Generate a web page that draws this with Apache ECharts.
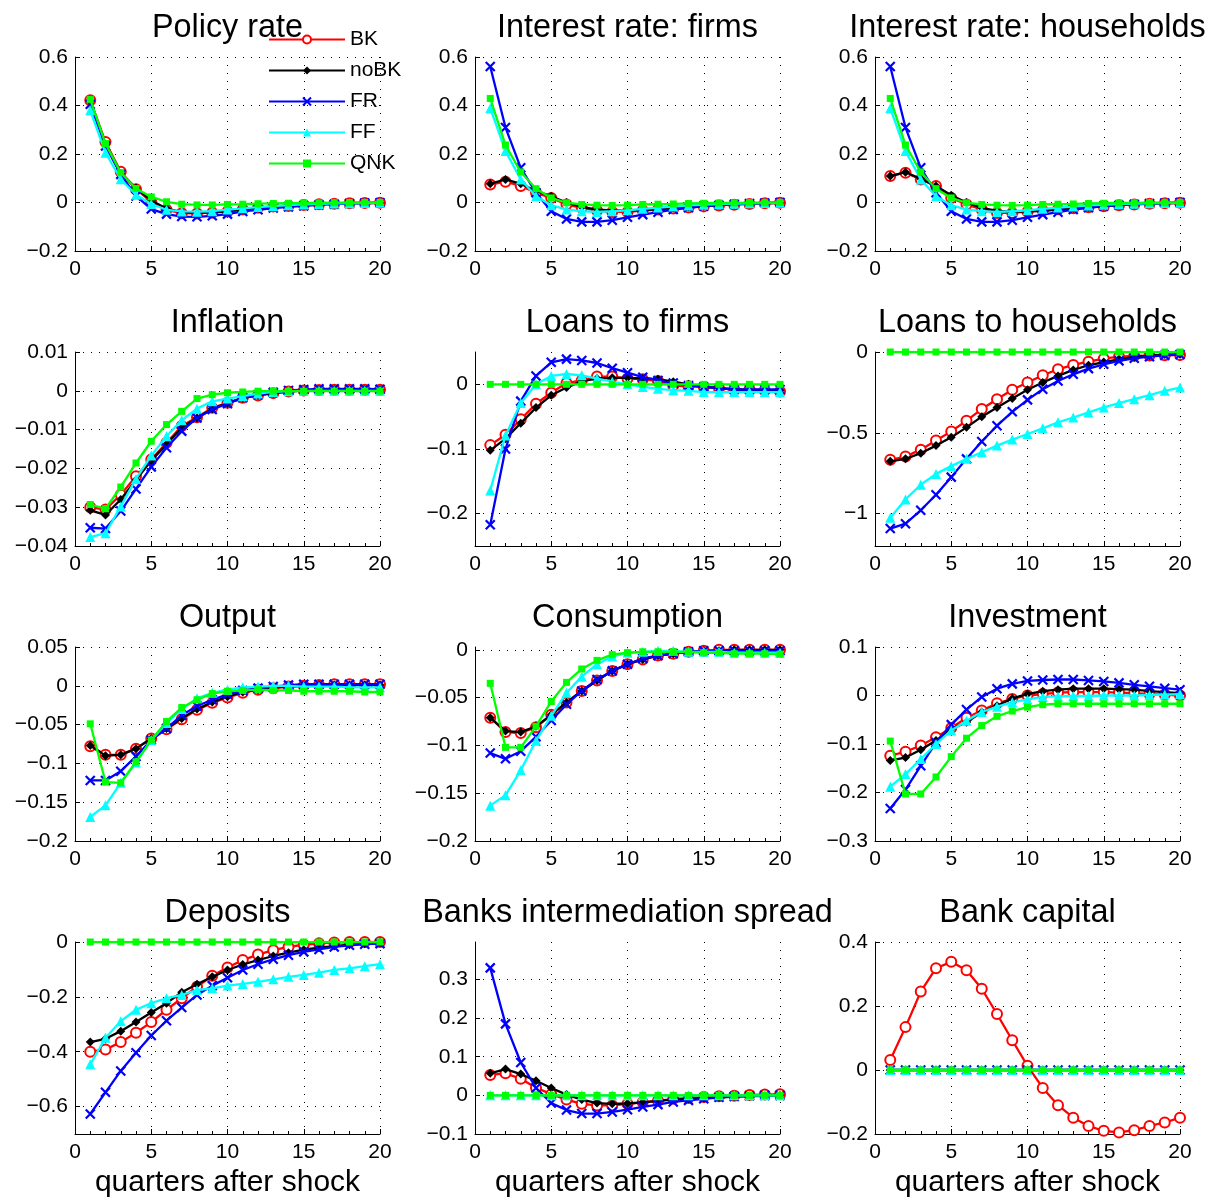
<!DOCTYPE html>
<html><head><meta charset="utf-8">
<script src="https://cdn.jsdelivr.net/npm/echarts@6/dist/echarts.min.js"></script>
<style>html,body{margin:0;padding:0;background:#fff}#chart{width:1210px;height:1199px}</style>
</head><body><div id="chart"></div>
<script>
const quarters = [1,2,3,4,5,6,7,8,9,10,11,12,13,14,15,16,17,18,19,20];
const seriesNames = ['BK','noBK','FR','FF','QNK'];
const panelTitles = ['Policy rate','Interest rate: firms','Interest rate: households','Inflation','Loans to firms','Loans to households','Output','Consumption','Investment','Deposits','Banks intermediation spread','Bank capital'];
const xTicks = [0,5,10,15,20];
const xLabelName = 'quarters after shock';

// Policy rate
const policy_BK   = [0.422,0.249,0.127,0.055,0.003,-0.030,-0.044,-0.045,-0.042,-0.037,-0.029,-0.022,-0.017,-0.014,-0.010,-0.007,-0.005,-0.003,-0.002,-0.001];
const policy_noBK = [0.418,0.240,0.120,0.060,0.008,-0.025,-0.040,-0.043,-0.041,-0.036,-0.029,-0.022,-0.017,-0.013,-0.010,-0.007,-0.005,-0.003,-0.002,-0.001];
const policy_FR   = [0.405,0.233,0.116,0.027,-0.027,-0.048,-0.058,-0.059,-0.055,-0.048,-0.037,-0.030,-0.023,-0.018,-0.014,-0.010,-0.007,-0.004,-0.002,-0.001];
const policy_FF   = [0.380,0.205,0.096,0.032,-0.006,-0.030,-0.037,-0.038,-0.036,-0.029,-0.024,-0.019,-0.015,-0.011,-0.008,-0.006,-0.004,-0.003,-0.002,-0.001];
const policy_QNK  = [0.425,0.243,0.123,0.058,0.023,0.003,-0.007,-0.010,-0.010,-0.008,-0.007,-0.005,-0.004,-0.003,-0.002,-0.002,-0.001,-0.001,0.000,0.000];
const policy_ticks = [-0.2,0,0.2,0.4,0.6];

// Interest rate: firms
const rfirm_BK   = [0.074,0.086,0.068,0.040,0.019,-0.008,-0.022,-0.033,-0.039,-0.039,-0.033,-0.029,-0.025,-0.021,-0.016,-0.012,-0.009,-0.006,-0.003,-0.001];
const rfirm_noBK = [0.077,0.095,0.077,0.047,0.026,0.000,-0.018,-0.029,-0.033,-0.033,-0.031,-0.027,-0.023,-0.019,-0.015,-0.011,-0.008,-0.005,-0.003,-0.001];
const rfirm_FR   = [0.561,0.309,0.143,0.040,-0.036,-0.068,-0.080,-0.080,-0.073,-0.061,-0.050,-0.040,-0.029,-0.022,-0.015,-0.011,-0.007,-0.004,-0.002,0.000];
const rfirm_FF   = [0.389,0.212,0.095,0.026,-0.011,-0.029,-0.036,-0.039,-0.036,-0.032,-0.026,-0.021,-0.017,-0.012,-0.009,-0.007,-0.005,-0.003,-0.002,-0.001];
const rfirm_QNK  = [0.429,0.237,0.126,0.057,0.019,-0.001,-0.008,-0.011,-0.012,-0.011,-0.008,-0.007,-0.006,-0.004,-0.003,-0.002,-0.002,-0.001,-0.001,0.000];
const rfirm_ticks = [-0.2,0,0.2,0.4,0.6];

// Interest rate: households
const rhh_BK   = [0.109,0.123,0.095,0.068,0.019,-0.008,-0.029,-0.043,-0.043,-0.038,-0.033,-0.028,-0.024,-0.020,-0.015,-0.011,-0.008,-0.005,-0.003,-0.001];
const rhh_noBK = [0.109,0.125,0.098,0.068,0.030,0.000,-0.022,-0.035,-0.038,-0.037,-0.034,-0.029,-0.024,-0.020,-0.015,-0.011,-0.008,-0.005,-0.003,-0.001];
const rhh_FR   = [0.561,0.309,0.143,0.040,-0.036,-0.068,-0.080,-0.080,-0.073,-0.061,-0.050,-0.040,-0.029,-0.022,-0.015,-0.011,-0.007,-0.004,-0.002,0.000];
const rhh_FF   = [0.389,0.212,0.095,0.026,-0.011,-0.029,-0.036,-0.039,-0.036,-0.032,-0.026,-0.021,-0.017,-0.012,-0.009,-0.007,-0.005,-0.003,-0.002,-0.001];
const rhh_QNK  = [0.429,0.237,0.126,0.057,0.019,-0.001,-0.008,-0.011,-0.012,-0.011,-0.008,-0.007,-0.006,-0.004,-0.003,-0.002,-0.002,-0.001,-0.001,0.000];
const rhh_ticks = [-0.2,0,0.2,0.4,0.6];

// Inflation
const infl_BK   = [-0.0300,-0.0306,-0.0268,-0.0220,-0.0177,-0.0134,-0.0091,-0.0068,-0.0044,-0.0031,-0.0018,-0.0012,-0.0006,-0.0002,0.0001,0.0002,0.0003,0.0003,0.0003,0.0003];
const infl_noBK = [-0.0308,-0.0320,-0.0280,-0.0230,-0.0180,-0.0138,-0.0095,-0.0070,-0.0046,-0.0032,-0.0019,-0.0012,-0.0006,-0.0002,0.0001,0.0002,0.0003,0.0003,0.0003,0.0003];
const infl_FR   = [-0.0353,-0.0355,-0.0310,-0.0253,-0.0196,-0.0147,-0.0104,-0.0070,-0.0048,-0.0033,-0.0018,-0.0010,-0.0004,0.0001,0.0003,0.0005,0.0005,0.0005,0.0005,0.0004];
const infl_FF   = [-0.0377,-0.0367,-0.0298,-0.0227,-0.0167,-0.0117,-0.0076,-0.0046,-0.0027,-0.0020,-0.0014,-0.0007,-0.0003,-0.0001,0.0000,0.0000,0.0000,0.0000,0.0000,0.0000];
const infl_QNK  = [-0.0293,-0.0304,-0.0248,-0.0186,-0.0130,-0.0087,-0.0053,-0.0020,-0.0010,-0.0005,-0.0003,-0.0001,-0.0001,-0.0001,-0.0001,-0.0001,-0.0001,-0.0001,-0.0001,-0.0001];
const infl_ticks = [-0.04,-0.03,-0.02,-0.01,0,0.01];

// Loans to firms
const lfirm_BK   = [-0.094,-0.078,-0.054,-0.030,-0.013,0.002,0.006,0.012,0.012,0.009,0.008,0.005,-0.002,-0.003,-0.004,-0.006,-0.008,-0.008,-0.009,-0.011];
const lfirm_noBK = [-0.102,-0.084,-0.060,-0.036,-0.017,-0.005,0.005,0.009,0.010,0.010,0.009,0.008,0.004,0.000,-0.004,-0.006,-0.008,-0.009,-0.009,-0.009];
const lfirm_FR   = [-0.217,-0.100,-0.026,0.013,0.034,0.039,0.037,0.033,0.025,0.018,0.011,0.006,0.002,-0.002,-0.004,-0.006,-0.008,-0.008,-0.008,-0.008];
const lfirm_FF   = [-0.164,-0.079,-0.029,0.000,0.013,0.016,0.014,0.009,0.004,0.000,-0.004,-0.007,-0.009,-0.010,-0.012,-0.012,-0.012,-0.012,-0.012,-0.012];
const lfirm_QNK  = [0,0,0,0,0,0,0,0,0,0,0,0,0,0,0,0,0,0,0,0];
const lfirm_ticks = [-0.2,-0.1,0];

// Loans to households
const lhh_BK   = [-0.667,-0.647,-0.604,-0.548,-0.491,-0.425,-0.353,-0.292,-0.234,-0.189,-0.144,-0.107,-0.080,-0.060,-0.041,-0.029,-0.024,-0.022,-0.020,-0.018];
const lhh_noBK = [-0.676,-0.661,-0.626,-0.579,-0.528,-0.466,-0.400,-0.343,-0.287,-0.234,-0.189,-0.148,-0.111,-0.082,-0.062,-0.045,-0.031,-0.023,-0.016,-0.014];
const lhh_FR   = [-1.092,-1.062,-0.979,-0.883,-0.774,-0.661,-0.554,-0.456,-0.370,-0.296,-0.230,-0.179,-0.138,-0.103,-0.076,-0.055,-0.039,-0.029,-0.021,-0.016];
const lhh_FF   = [-1.025,-0.912,-0.821,-0.754,-0.706,-0.661,-0.620,-0.579,-0.542,-0.507,-0.472,-0.435,-0.405,-0.374,-0.343,-0.316,-0.292,-0.267,-0.240,-0.220];
const lhh_QNK  = [0,0,0,0,0,0,0,0,0,0,0,0,0,0,0,0,0,0,0,0];
const lhh_ticks = [-1,-0.5,0];

// Output
const out_BK   = [-0.078,-0.089,-0.089,-0.081,-0.068,-0.056,-0.043,-0.031,-0.022,-0.015,-0.009,-0.005,-0.003,-0.001,0.000,0.001,0.002,0.002,0.002,0.002];
const out_noBK = [-0.077,-0.090,-0.089,-0.081,-0.068,-0.055,-0.042,-0.030,-0.021,-0.014,-0.008,-0.005,-0.002,-0.001,0.000,0.001,0.001,0.001,0.001,0.001];
const out_FR   = [-0.122,-0.122,-0.110,-0.091,-0.070,-0.055,-0.038,-0.026,-0.018,-0.011,-0.006,-0.003,-0.001,0.001,0.002,0.002,0.002,0.002,0.002,0.002];
const out_FF   = [-0.169,-0.154,-0.125,-0.099,-0.070,-0.048,-0.030,-0.016,-0.009,-0.005,-0.002,-0.001,0.000,0.000,-0.001,-0.001,-0.001,-0.002,-0.002,-0.002];
const out_QNK  = [-0.049,-0.124,-0.125,-0.098,-0.070,-0.046,-0.028,-0.018,-0.010,-0.007,-0.006,-0.005,-0.006,-0.006,-0.007,-0.007,-0.007,-0.007,-0.008,-0.008];
const out_ticks = [-0.2,-0.15,-0.1,-0.05,0,0.05];

// Consumption
const cons_BK   = [-0.071,-0.086,-0.087,-0.081,-0.068,-0.055,-0.043,-0.032,-0.022,-0.015,-0.010,-0.006,-0.004,-0.002,-0.001,0.000,0.000,0.000,0.000,0.000];
const cons_noBK = [-0.071,-0.085,-0.086,-0.080,-0.068,-0.055,-0.043,-0.032,-0.022,-0.015,-0.010,-0.006,-0.004,-0.002,-0.001,-0.001,0.000,0.000,0.000,0.000];
const cons_FR   = [-0.108,-0.114,-0.106,-0.091,-0.074,-0.057,-0.043,-0.031,-0.022,-0.015,-0.009,-0.006,-0.004,-0.002,-0.001,-0.001,-0.001,-0.001,-0.001,-0.001];
const cons_FF   = [-0.163,-0.152,-0.126,-0.095,-0.069,-0.045,-0.028,-0.015,-0.007,-0.003,-0.002,-0.001,-0.001,-0.002,-0.002,-0.002,-0.003,-0.003,-0.003,-0.003];
const cons_QNK  = [-0.035,-0.102,-0.102,-0.080,-0.054,-0.034,-0.020,-0.011,-0.005,-0.003,-0.002,-0.002,-0.002,-0.002,-0.003,-0.003,-0.004,-0.004,-0.004,-0.0045];
const cons_ticks = [-0.2,-0.15,-0.1,-0.05,0];

// Investment
const inv_BK   = [-0.124,-0.116,-0.103,-0.086,-0.067,-0.046,-0.031,-0.016,-0.007,0.000,0.003,0.006,0.007,0.007,0.007,0.006,0.005,0.003,0.002,0.000];
const inv_noBK = [-0.134,-0.128,-0.112,-0.093,-0.069,-0.055,-0.034,-0.021,-0.006,0.003,0.009,0.012,0.014,0.014,0.014,0.013,0.012,0.009,0.007,0.005];
const inv_FR   = [-0.233,-0.194,-0.145,-0.097,-0.060,-0.029,-0.003,0.014,0.024,0.030,0.032,0.033,0.033,0.031,0.029,0.026,0.022,0.019,0.015,0.012];
const inv_FF   = [-0.188,-0.162,-0.131,-0.100,-0.072,-0.052,-0.034,-0.023,-0.014,-0.008,-0.003,-0.002,-0.001,-0.001,0.000,0.000,0.000,0.001,0.002,0.003];
const inv_QNK  = [-0.094,-0.203,-0.203,-0.168,-0.126,-0.088,-0.062,-0.043,-0.032,-0.024,-0.019,-0.017,-0.017,-0.017,-0.017,-0.017,-0.017,-0.017,-0.017,-0.017];
const inv_ticks = [-0.3,-0.2,-0.1,0,0.1];

// Deposits
const dep_BK   = [-0.400,-0.392,-0.365,-0.331,-0.292,-0.247,-0.205,-0.163,-0.123,-0.093,-0.066,-0.046,-0.030,-0.018,-0.010,-0.005,-0.002,0.000,0.000,0.000];
const dep_noBK = [-0.365,-0.353,-0.325,-0.292,-0.257,-0.223,-0.183,-0.154,-0.127,-0.102,-0.082,-0.066,-0.051,-0.039,-0.028,-0.021,-0.015,-0.010,-0.006,-0.002];
const dep_FR   = [-0.627,-0.548,-0.470,-0.404,-0.341,-0.287,-0.239,-0.193,-0.159,-0.130,-0.102,-0.081,-0.063,-0.048,-0.036,-0.027,-0.018,-0.012,-0.008,-0.006];
const dep_FF   = [-0.446,-0.349,-0.289,-0.247,-0.223,-0.205,-0.193,-0.175,-0.169,-0.159,-0.153,-0.145,-0.136,-0.127,-0.120,-0.112,-0.102,-0.096,-0.088,-0.081];
const dep_QNK  = [0,0,0,0,0,0,0,0,0,0,0,0,0,0,0,0,0,0,0,0];
const dep_ticks = [-0.6,-0.4,-0.2,0];

// Banks intermediation spread
const spr_BK   = [0.053,0.057,0.043,0.020,0.003,-0.011,-0.022,-0.026,-0.026,-0.022,-0.018,-0.014,-0.009,-0.007,-0.004,-0.002,-0.001,0.001,0.002,0.003];
const spr_noBK = [0.057,0.068,0.055,0.038,0.019,0.002,-0.011,-0.020,-0.022,-0.021,-0.018,-0.014,-0.011,-0.009,-0.007,-0.005,-0.003,-0.002,-0.001,0.000];
const spr_FR   = [0.330,0.185,0.085,0.019,-0.020,-0.038,-0.047,-0.047,-0.043,-0.037,-0.030,-0.024,-0.017,-0.013,-0.009,-0.005,-0.003,-0.001,0.000,0.000];
const spr_FF   = [0,0,0,0,0,0,0,0,0,0,0,0,0,0,0,0,0,0,0,0];
const spr_QNK  = [0,0,0,0,0,0,0,0,0,0,0,0,0,0,0,0,0,0,0,0];
const spr_ticks = [-0.1,0,0.1,0.2,0.3];

// Bank capital
const cap_BK   = [0.031,0.134,0.245,0.318,0.338,0.312,0.254,0.175,0.093,0.013,-0.056,-0.110,-0.149,-0.175,-0.190,-0.195,-0.188,-0.175,-0.164,-0.149];
const cap_noBK = [0,0,0,0,0,0,0,0,0,0,0,0,0,0,0,0,0,0,0,0];
const cap_FR   = [0,0,0,0,0,0,0,0,0,0,0,0,0,0,0,0,0,0,0,0];
const cap_FF   = [0,0,0,0,0,0,0,0,0,0,0,0,0,0,0,0,0,0,0,0];
const cap_QNK  = [0,0,0,0,0,0,0,0,0,0,0,0,0,0,0,0,0,0,0,0];
const cap_ticks = [-0.2,0,0.2,0.4];

const panelData = [
  [policy_BK, policy_noBK, policy_FR, policy_FF, policy_QNK],
  [rfirm_BK, rfirm_noBK, rfirm_FR, rfirm_FF, rfirm_QNK],
  [rhh_BK, rhh_noBK, rhh_FR, rhh_FF, rhh_QNK],
  [infl_BK, infl_noBK, infl_FR, infl_FF, infl_QNK],
  [lfirm_BK, lfirm_noBK, lfirm_FR, lfirm_FF, lfirm_QNK],
  [lhh_BK, lhh_noBK, lhh_FR, lhh_FF, lhh_QNK],
  [out_BK, out_noBK, out_FR, out_FF, out_QNK],
  [cons_BK, cons_noBK, cons_FR, cons_FF, cons_QNK],
  [inv_BK, inv_noBK, inv_FR, inv_FF, inv_QNK],
  [dep_BK, dep_noBK, dep_FR, dep_FF, dep_QNK],
  [spr_BK, spr_noBK, spr_FR, spr_FF, spr_QNK],
  [cap_BK, cap_noBK, cap_FR, cap_FF, cap_QNK]
];
const panelTicks = [policy_ticks, rfirm_ticks, rhh_ticks, infl_ticks, lfirm_ticks, lhh_ticks, out_ticks, cons_ticks, inv_ticks, dep_ticks, spr_ticks, cap_ticks];
const panelYMin = [-0.2,-0.2,-0.2,-0.04,-0.25,-1.2,-0.2,-0.2,-0.3,-0.7,-0.1,-0.2];
const panelYMax = [0.6,0.6,0.6,0.01,0.05,0,0.05,0.003,0.1,0,0.397,0.4];

const FONT = '"Liberation Sans", Arial, Helvetica, sans-serif';
const seriesStyle = [
  {color:'#ff0000', symbol:'emptyCircle', size:10},
  {color:'#000000', symbol:'diamond', size:9},
  {color:'#0000ff', symbol:'path://M0 0L10 10M10 0L0 10', size:9},
  {color:'#00ffff', symbol:'triangle', size:10},
  {color:'#00ff00', symbol:'rect', size:7}
];

const grids = [], xAxes = [], yAxes = [], titles = [], series = [];
const fmt = v => (v < 0 ? '\u2212' + String(Math.abs(v)) : String(v));
for (let i = 0; i < 12; i++) {
  const row = Math.floor(i / 3), col = i % 3;
  const left = 75 + col * 400, top = 57 + row * 295;
  grids.push({left: left, top: top, width: 305, height: 194});
  titles.push({text: panelTitles[i], left: left + 152.5, top: top - 45, textAlign: 'center', padding: 0,
    textStyle: {fontFamily: FONT, fontSize: 32.4, fontWeight: 'normal', color: '#000'}});
  xAxes.push({
    gridIndex: i, type: 'value', min: 0, max: 20, interval: 5,
    name: row === 3 ? xLabelName : '', nameLocation: 'middle', nameGap: 34,
    nameTextStyle: {fontFamily: FONT, fontSize: 30, color: '#000', verticalAlign: 'top'},
    axisLine: {onZero: false, lineStyle: {color: '#000', width: 1}},
    axisTick: {inside: true, length: 5, lineStyle: {color: '#000'}},
    minorTick: {show: true, splitNumber: 5, length: 3, lineStyle: {color: '#000'}},
    splitLine: {show: true, lineStyle: {color: '#000', width: 1, type: [1, 7]}},
    axisLabel: {fontFamily: FONT, fontSize: 21, color: '#000', margin: 8,
      customValues: xTicks, formatter: fmt}
  });
  yAxes.push({
    gridIndex: i, type: 'value', min: panelYMin[i], max: panelYMax[i],
    axisLine: {show: true, onZero: false, lineStyle: {color: '#000', width: 1}},
    axisTick: {show: true, inside: true, length: 5, lineStyle: {color: '#000'}, customValues: panelTicks[i]},
    splitLine: {show: true, lineStyle: {color: '#000', width: 1, type: [1, 7]}},
    axisLabel: {fontFamily: FONT, fontSize: 21, color: '#000', margin: 7,
      customValues: panelTicks[i], formatter: fmt}
  });
  for (let s = 0; s < 5; s++) {
    const st = seriesStyle[s];
    series.push({
      name: seriesNames[s], type: 'line', xAxisIndex: i, yAxisIndex: i,
      data: quarters.map((q, k) => [q, panelData[i][s][k]]),
      symbol: st.symbol, symbolSize: st.size, showSymbol: true,
      lineStyle: {color: st.color, width: 2.3},
      itemStyle: {color: st.color, borderColor: st.color, borderWidth: s === 2 ? 2.2 : (s === 0 ? 1.8 : 0)},
      z: 2 + s, animation: false, silent: true
    });
  }
}

const chart = echarts.init(document.getElementById('chart'), null, {renderer: 'canvas'});
chart.setOption({
  backgroundColor: '#fff',
  animation: false,
  title: titles,
  grid: grids,
  xAxis: xAxes,
  yAxis: yAxes,
  legend: {
    data: seriesNames, orient: 'vertical', left: 263, top: 24,
    itemWidth: 76, itemHeight: 10, itemGap: 10,
    textStyle: {fontFamily: FONT, fontSize: 21, color: '#000', lineHeight: 21},
    selectedMode: false, z: 10
  },
  series: series
});
</script>
</body></html>
